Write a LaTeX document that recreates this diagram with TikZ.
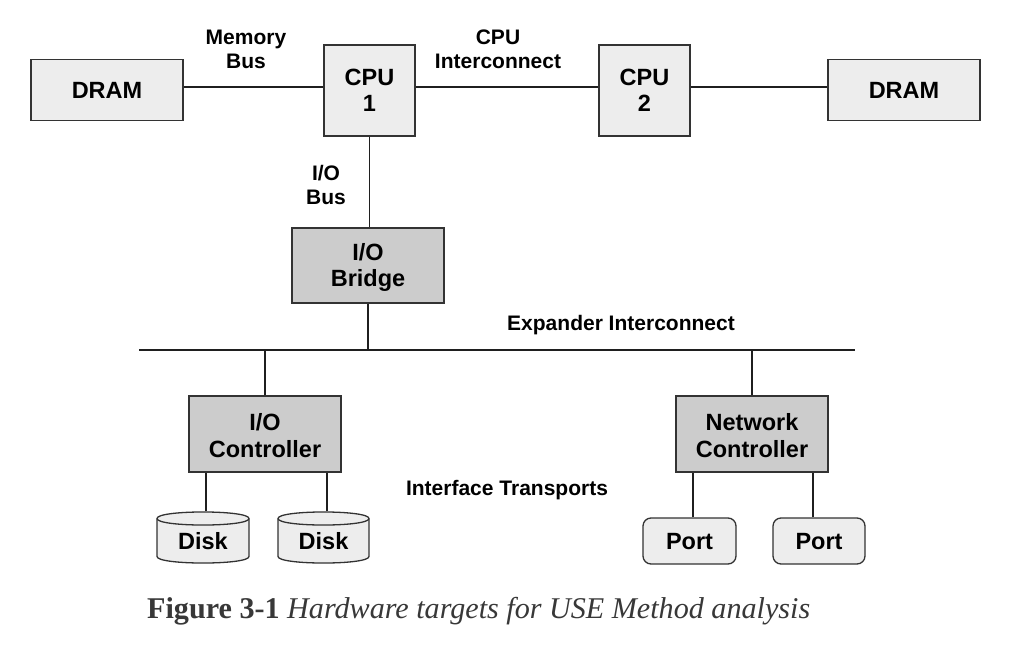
\documentclass[tikz,border=0pt]{standalone}
\usepackage{fontspec}
\setmainfont{Liberation Sans}
\newfontfamily\capfont{Liberation Serif}
\begin{document}
\begin{tikzpicture}[x=1pt,y=-1pt,
  wire/.style={draw=black!88, line width=1.4pt},
  lightbox/.style={draw=black!80, line width=1.3pt, fill=black!7, inner sep=0pt, align=center,
    font=\fontsize{23.5}{26.5}\selectfont\bfseries},
  darkbox/.style={lightbox, fill=black!20},
  lab/.style={align=center, inner sep=0pt, font=\fontsize{21}{24}\selectfont\bfseries},
  diskshape/.style={draw=black!80, line width=1.3pt, fill=black!7}]
\useasboundingbox[fill=white] (0,0) rectangle (1030,650);
% boxes
\node[lightbox, minimum width=152pt, minimum height=61pt] (dl) at (107,90) {DRAM};
\node[lightbox, minimum width=91pt, minimum height=91pt] (c1) at (369.5,90.5) {CPU\\1};
\node[lightbox, minimum width=91pt, minimum height=91pt] (c2) at (644.5,90.5) {CPU\\2};
\node[lightbox, minimum width=152pt, minimum height=61pt] (dr) at (904,90) {DRAM};
\node[darkbox, minimum width=152pt, minimum height=75pt] (br) at (368,265.5) {};
\node[darkbox, draw=none, fill=none] (brt) at (368,267.5) {I/O\\Bridge};
\node[darkbox, minimum width=152pt, minimum height=76pt] (ioc) at (265,434) {};
\node[darkbox, draw=none, fill=none] (ioct) at (265,435.5) {I/O\\Controller};
\node[darkbox, minimum width=152pt, minimum height=76pt] (nc) at (752,434) {};
\node[darkbox, draw=none, fill=none] (nct) at (752,435.5) {Network\\Controller};
% labels
\node[lab] (lmb) at (246,49) {Memory\\Bus};
\node[lab] (lci) at (498,49) {CPU\\Interconnect};
\node[lab] (lio) at (326,185) {I/O\\Bus};
\node[lab] (lei) at (621,325) {Expander Interconnect};
\node[lab] (lit) at (507,490) {Interface Transports};
% top connectors
\draw[wire] ([yshift=3pt]dl.east) -- ([yshift=3pt]dl.east -| c1.west);
\draw[wire] ([yshift=3.5pt]c1.east) -- ([yshift=3.5pt]c2.west);
\draw[wire] ([yshift=3.5pt]c2.east) -- ([yshift=3.5pt]c2.east -| dr.west);
\draw[wire] (c1.south) -- (c1.south |- br.north);
% bus
\coordinate (busL) at (139,350);
\coordinate (busR) at (855,350);
\draw[wire] (busL) -- (busR);
\draw[wire] (br.south) -- (br.south |- busL);
\draw[wire] (ioc.north) -- (ioc.north |- busL);
\draw[wire] (nc.north) -- (nc.north |- busL);
% disks
\draw[diskshape] (157,518.5) -- (157,556.5) .. controls (157,565.2) and (249,565.2) .. (249,556.5)
  -- (249,518.5) .. controls (249,509.8) and (157,509.8) .. (157,518.5) -- cycle;
\draw[diskshape, fill=none] (157,518.5) .. controls (157,527.2) and (249,527.2) .. (249,518.5);
\draw[diskshape] (278,518.5) -- (278,556.5) .. controls (278,565.2) and (369,565.2) .. (369,556.5)
  -- (369,518.5) .. controls (369,509.8) and (278,509.8) .. (278,518.5) -- cycle;
\draw[diskshape, fill=none] (278,518.5) .. controls (278,527.2) and (369,527.2) .. (369,518.5);
\node[lightbox, draw=none, fill=none, minimum width=92pt, minimum height=51pt] (d1) at (203,537.5) {};
\node[lightbox, draw=none, fill=none, minimum width=91pt, minimum height=51pt] (d2) at (323.5,537.5) {};
\node[lightbox, draw=none, fill=none] (d1t) at (203,541.5) {Disk};
\node[lightbox, draw=none, fill=none] (d2t) at (323.5,541.5) {Disk};
\draw[wire] ([xshift=3pt]d1.north) -- ([xshift=3pt]d1.north |- ioc.south);
\draw[wire] ([xshift=3.5pt]d2.north) -- ([xshift=3.5pt]d2.north |- ioc.south);
% ports
\node[lightbox, rounded corners=8pt, minimum width=93pt, minimum height=46pt] (p1) at (689.5,541) {};
\node[lightbox, rounded corners=8pt, minimum width=92pt, minimum height=46pt] (p2) at (819,541) {};
\node[lightbox, draw=none, fill=none] (p1t) at (689.5,542) {Port};
\node[lightbox, draw=none, fill=none] (p2t) at (819,542) {Port};
\draw[wire] ([xshift=3.5pt]p1.north) -- ([xshift=3.5pt]p1.north |- nc.south);
\draw[wire] ([xshift=-6pt]p2.north) -- ([xshift=-6pt]p2.north |- nc.south);
% caption
\node[anchor=base west, inner sep=0pt, text=black!78] (cap) at (147,618)
  {\resizebox{663pt}{!}{\capfont\fontsize{28}{32}\selectfont\textbf{Figure 3-1} \textit{Hardware targets for USE Method analysis}}};
\end{tikzpicture}
\end{document}
